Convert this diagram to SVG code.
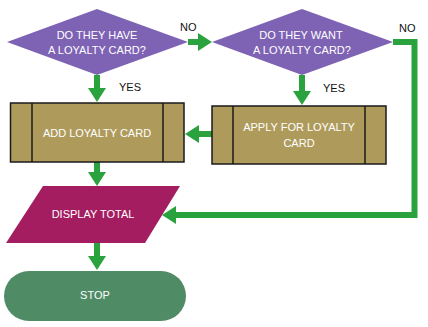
<svg xmlns="http://www.w3.org/2000/svg" width="428" height="327" viewBox="0 0 428 327">
<style>
text{font-family:"Liberation Sans",Arial,sans-serif;font-size:11px;text-anchor:middle}
.w{fill:#ffffff}
.lbl{fill:#111111;text-anchor:start}
.dec{fill:#7e62b4}
.proc{fill:#ae9b5c;stroke:#1a1a1a;stroke-width:1.5}
.bar{stroke:#1a1a1a;stroke-width:1.5}
.io{fill:#a41d60}
.term{fill:#4f8b65}
.c{fill:none;stroke:#2aa33f;stroke-width:6;marker-end:url(#ah)}
</style>
<defs>
<marker id="ah" viewBox="0 0 14 18" refX="1" refY="9" markerWidth="14" markerHeight="18" markerUnits="userSpaceOnUse" orient="auto">
<path d="M0,0 L14,9 L0,18 Z" fill="#2aa33f"/>
</marker>
</defs>
<g id="connectors">
<path class="c" d="M188,42 H199"/>
<path class="c" d="M97,75 V89"/>
<path class="c" d="M302,75 V92"/>
<path class="c" d="M212,134 H198"/>
<path class="c" d="M97,162 V173"/>
<path class="c" d="M97,243 V257"/>
<path class="c" d="M393,42 H414.5 V215 H175"/>
<text class="lbl" x="180" y="31">NO</text>
<text class="lbl" x="119" y="91">YES</text>
<text class="lbl" x="323" y="92">YES</text>
<text class="lbl" x="399" y="32">NO</text>
</g>
<g id="have-card">
<polygon class="dec" points="7,42 97,9 188,42 97,75"/>
<text class="w" x="97" y="39">DO THEY HAVE</text>
<text class="w" x="97" y="54">A LOYALTY CARD?</text>
</g>
<g id="want-card">
<polygon class="dec" points="212,42 302,9 393,42 302,75"/>
<text class="w" x="301" y="39">DO THEY WANT</text>
<text class="w" x="302" y="54">A LOYALTY CARD?</text>
</g>
<g id="add-card">
<rect class="proc" x="10.5" y="103" width="173.5" height="59"/>
<line class="bar" x1="32" y1="103" x2="32" y2="162"/>
<line class="bar" x1="163" y1="103" x2="163" y2="162"/>
<text class="w" x="97" y="137">ADD LOYALTY CARD</text>
</g>
<g id="apply-card">
<rect class="proc" x="212" y="106" width="174" height="58"/>
<line class="bar" x1="233" y1="106" x2="233" y2="164"/>
<line class="bar" x1="365" y1="106" x2="365" y2="164"/>
<text class="w" x="299" y="131">APPLY FOR LOYALTY</text>
<text class="w" x="299" y="147">CARD</text>
</g>
<g id="display-total">
<polygon class="io" points="43,186 180,186 145,243 6,243"/>
<text class="w" x="93" y="218">DISPLAY TOTAL</text>
</g>
<g id="stop">
<rect class="term" x="4" y="271" width="182" height="50" rx="25" ry="25"/>
<text class="w" x="95" y="299">STOP</text>
</g>
</svg>
